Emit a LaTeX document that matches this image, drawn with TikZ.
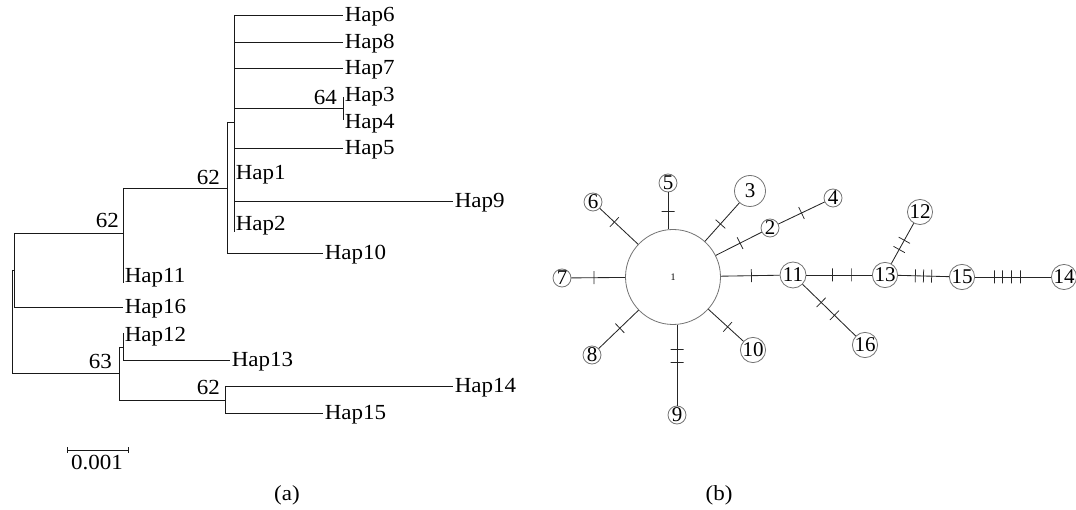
\documentclass[tikz,border=0pt]{standalone}
\usepackage{fontspec}
\setmainfont{Liberation Serif}
\begin{document}
\begin{tikzpicture}[x=1pt,y=-1pt,
  br/.style={line width=0.85pt, black!90},
  fnt/.style={font=\fontsize{21.5}{23}\selectfont, transform shape, xscale=1.07},
  lab/.style={fnt, anchor=west, inner sep=0pt, xshift=1.5pt, yshift=-2pt},
  bs/.style={fnt, anchor=base east, inner sep=0pt},
  hp/.style={circle, draw=black!55, line width=0.8pt, inner sep=0pt, minimum size=18pt, font=\fontsize{21}{22}\selectfont},
  ed/.style={line width=0.85pt, black!85},
  tk/.style={sloped, draw=black!85, inner sep=0pt, minimum width=0pt, minimum height=13pt, line width=0.75pt, rectangle}]
\useasboundingbox (0,0) rectangle (1076,510);

% ---------- (a) tree ----------
% internal nodes
\coordinate (r0t) at (12,270);  \coordinate (r0b) at (12,373);
\coordinate (r1t) at (14,233);  \coordinate (r1b) at (14,307);
\coordinate (cA)  at (123,188); \coordinate (cAb) at (123,283);
\coordinate (cB)  at (227,122); \coordinate (cBb) at (227,253);
\coordinate (cC)  at (234,15);  \coordinate (cCb) at (234,232);
\coordinate (cD)  at (343,97);  \coordinate (cDb) at (343,120);
\coordinate (cE)  at (119,347); \coordinate (cEb) at (119,400);
\coordinate (cF)  at (123,333); \coordinate (cFb) at (123,360);
\coordinate (cG)  at (225,386); \coordinate (cGb) at (225,413);
% tips
\coordinate (t6) at (343,15);  \coordinate (t8) at (343,42);
\coordinate (t7) at (343,68);  \coordinate (t5) at (343,148);
\coordinate (t9) at (453,201); \coordinate (t10) at (323,253);
\coordinate (t16) at (123,307); \coordinate (t13) at (230,360);
\coordinate (t14) at (453,386); \coordinate (t15) at (323,413);
\coordinate (t3) at (343,95);  \coordinate (t4) at (343,122);
\coordinate (t1) at (234,173); \coordinate (t2) at (234,224);
\coordinate (t11) at (123,276); \coordinate (t12) at (123,335);

% branches
\draw[br] (r0t) -- (r0b);
\draw[br] (r0t) -- (r1t |- r0t);
\draw[br] (r1t) -- (r1b);
\draw[br] (r1t) -- (cA |- r1t);
\draw[br] (r1b) -- (t16);
\draw[br] (cA) -- (cAb);
\draw[br] (cA) -- (cB |- cA);
\draw[br] (cB) -- (cBb) -- (t10);
\draw[br] (cB) -- (cC |- cB);
\draw[br] (cC) -- (cCb);
\draw[br] (cC) -- (t6);
\draw[br] (cC |- t8) -- (t8);
\draw[br] (cC |- t7) -- (t7);
\draw[br] (cC |- 0,108) -- (cD |- 0,108);
\draw[br] (cD) -- (cDb);
\draw[br] (cC |- t5) -- (t5);
\draw[br] (cC |- t9) -- (t9);
\draw[br] (r0b) -- (cE |- r0b);
\draw[br] (cE) -- (cEb);
\draw[br] (cE) -- (cF |- cE);
\draw[br] (cF) -- (cFb) -- (t13);
\draw[br] (cEb) -- (cG |- cEb);
\draw[br] (cG) -- (cGb) -- (t15);
\draw[br] (cG) -- (t14);

% leaf labels
\node[lab] (L6) at (t6) {Hap6};
\node[lab] (L8) at (t8) {Hap8};
\node[lab] (L7) at (t7) {Hap7};
\node[lab] (L3) at (t3) {Hap3};
\node[lab] (L4) at (t4) {Hap4};
\node[lab] (L5) at (t5) {Hap5};
\node[lab] (L1) at (t1) {Hap1};
\node[lab] (L9) at (t9) {Hap9};
\node[lab] (L2) at (t2) {Hap2};
\node[lab] (L10) at (t10) {Hap10};
\node[lab] (L11) at (t11) {Hap11};
\node[lab] (L16) at (t16) {Hap16};
\node[lab] (L12) at (t12) {Hap12};
\node[lab] (L13) at (t13) {Hap13};
\node[lab] (L14) at (t14) {Hap14};
\node[lab] (L15) at (t15) {Hap15};

% bootstrap values
\node[bs] (b1) at (119,228) {62};
\node[bs] (b2) at (220,185) {62};
\node[bs] (b3) at (337,105) {64};
\node[bs] (b4) at (112,369) {63};
\node[bs] (b5) at (220,395) {62};

% scale bar
\coordinate (s0) at (67,450); \coordinate (s1) at (128,450);
\draw[br] (s0) -- (s1);
\draw[br] ([yshift=3pt]s0) -- ([yshift=-3pt]s0);
\draw[br] ([yshift=3pt]s1) -- ([yshift=-3pt]s1);
\node[fnt, inner sep=0pt] (sl) at (97,463) {0.001};

\node[fnt, inner sep=0pt] (ca) at (287,495) {(a)};
\node[fnt, inner sep=0pt] (cb) at (719,495) {(b)};

% ---------- (b) network ----------
\node[hp, minimum size=95pt, font=\fontsize{10}{12}\selectfont] (h1) at (673,277) {1};
\node[hp] (h5) at (668,183) {5};
\node[hp] (h6) at (593,202) {6};
\node[hp, minimum size=31pt] (h3) at (750,191) {3};
\node[hp] (h2) at (770,228) {2};
\node[hp] (h4) at (833,198) {4};
\node[hp, minimum size=26pt] (h11) at (793,275) {11};
\node[hp] (h7) at (562,278) {7};
\node[hp] (h8) at (592,355) {8};
\node[hp] (h9) at (677,415) {9};
\node[hp, minimum size=20pt] (h10) at (753,350) {10};
\node[hp, minimum size=20pt] (h12) at (920,212) {12};
\node[hp, minimum size=22pt] (h13) at (885,275) {13};
\node[hp, minimum size=20pt] (h15) at (962,277) {15};
\node[hp, minimum size=20pt] (h14) at (1064,277) {14};
\node[hp, minimum size=20pt] (h16) at (865,345) {16};

\draw[ed] (h5) -- ([yshift=-0.3pt]h5 |- h1.north) node[tk, pos=0.5] {};
\draw[ed] (h1) -- (h6) node[tk, pos=0.62] {};
\draw[ed] (h1) -- (h3) node[tk, pos=0.45] {};
\draw[ed] (h1) -- (h2) node[tk, pos=0.53] {};
\draw[ed] (h2) -- (h4) node[tk, pos=0.5] {};
\draw[ed] (h1) -- (h11) node[tk, pos=0.52] {};
\draw[ed] (h1) -- (h7) node[tk, pos=0.58] {};
\draw[ed] (h1) -- (h8) node[tk, pos=0.47] {};
\draw[ed] ([yshift=0.3pt]h9 |- h1.south) -- (h9) node[tk, pos=0.30] {} node[tk, pos=0.47] {};
\draw[ed] (h1) -- (h10) node[tk, pos=0.55] {};
\draw[ed] (h11) -- (h13) node[tk, pos=0.40] {} node[tk, pos=0.68] {};
\draw[ed] (h13) -- (h15) node[tk, pos=0.34] {} node[tk, pos=0.50] {} node[tk, pos=0.66] {};
\draw[ed] (h15) -- (h14) node[tk, pos=0.25] {} node[tk, pos=0.36] {} node[tk, pos=0.48] {} node[tk, pos=0.60] {};
\draw[ed] (h13) -- (h12) node[tk, pos=0.35] {} node[tk, pos=0.58] {};
\draw[ed] (h11) -- (h16) node[tk, pos=0.35] {} node[tk, pos=0.60] {};
\end{tikzpicture}
\end{document}
